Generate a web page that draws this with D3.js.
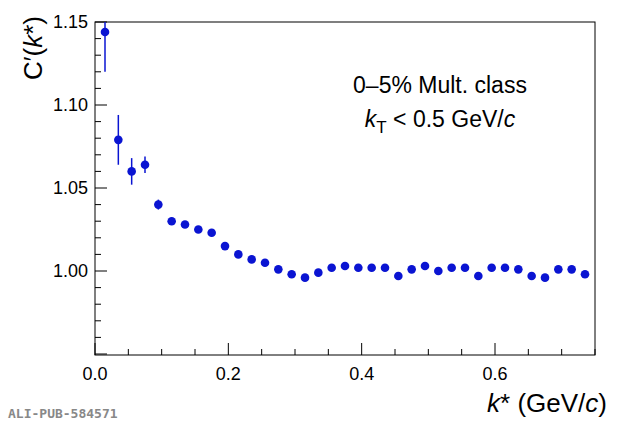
<!DOCTYPE html>
<html>
<head>
<meta charset="utf-8">
<script src="https://cdn.jsdelivr.net/npm/d3@7"></script>
<style>
  body { margin: 0; background: #fff; }
  text { font-family: "Liberation Sans", Arial, sans-serif; }
  text.wm { font-family: "DejaVu Sans Mono", monospace; font-weight: bold; }
</style>
</head>
<body>
<svg id="chart" width="620" height="429"></svg>
<script>
// k* bin centres (GeV/c) and C'(k*) values
var kstar = d3.range(37).map(function (i) { return +(0.015 + 0.02 * i).toFixed(4); });
var cval = [1.144, 1.079, 1.060, 1.064, 1.040, 1.030, 1.028, 1.025, 1.023, 1.015,
            1.010, 1.007, 1.005, 1.001, 0.998, 0.996, 0.999, 1.002, 1.003, 1.002,
            1.002, 1.002, 0.997, 1.001, 1.003, 1.000, 1.002, 1.002, 0.997, 1.002,
            1.002, 1.001, 0.997, 0.996, 1.001, 1.001, 0.998];
var cerr = [0.024, 0.015, 0.008, 0.005, 0.003, 0.002, 0.001, 0.001, 0.001, 0.001,
            0.001, 0.001, 0.001, 0.001, 0.001, 0.001, 0.001, 0.001, 0.001, 0.001,
            0.001, 0.001, 0.001, 0.001, 0.001, 0.001, 0.001, 0.001, 0.001, 0.001,
            0.001, 0.001, 0.001, 0.001, 0.001, 0.001, 0.001];
var xTicks = [0, 0.2, 0.4, 0.6];
var yTicks = [1.00, 1.05, 1.10, 1.15];

var svg = d3.select("#chart");
var L = 95, R = 595, T = 22, B = 355;
var x = d3.scaleLinear().domain([0, 0.75]).range([L, R]);
var y = d3.scaleLinear().domain([0.9494, 1.15]).range([B, T]);

// frame
svg.append("rect").attr("x", L).attr("y", T).attr("width", R - L).attr("height", B - T)
  .attr("fill", "none").attr("stroke", "#000").attr("stroke-width", 1);

// x ticks (inward)
d3.range(0, 0.751, 0.05).forEach(function (v) {
  var major = Math.abs(v / 0.2 - Math.round(v / 0.2)) < 1e-6;
  svg.append("line").attr("x1", x(v)).attr("x2", x(v))
    .attr("y1", B).attr("y2", B - (major ? 12 : 6)).attr("stroke", "#000");
});
xTicks.forEach(function (v) {
  svg.append("text").attr("x", x(v)).attr("y", B + 25).attr("text-anchor", "middle")
    .attr("font-size", 18).text(d3.format(".1f")(v));
});
// y ticks (inward)
d3.range(0.95, 1.1501, 0.01).forEach(function (v) {
  var major = Math.abs(v / 0.05 - Math.round(v / 0.05)) < 1e-6;
  if (v < 0.9494) return;
  svg.append("line").attr("x1", L).attr("x2", L + (major ? 12 : 6))
    .attr("y1", y(v)).attr("y2", y(v)).attr("stroke", "#000");
});
yTicks.forEach(function (v) {
  svg.append("text").attr("x", L - 7).attr("y", y(v) + 6).attr("text-anchor", "end")
    .attr("font-size", 18).text(d3.format(".2f")(v));
});

// axis titles
var xt = svg.append("text").attr("x", R + 12).attr("y", 412).attr("text-anchor", "end").attr("font-size", 26);
xt.append("tspan").attr("font-style", "italic").text("k");
xt.append("tspan").text("* (GeV/");
xt.append("tspan").attr("font-style", "italic").text("c");
xt.append("tspan").text(")");

var yt = svg.append("text").attr("transform", "translate(42," + (T - 6) + ") rotate(-90)")
  .attr("text-anchor", "end").attr("font-size", 26);
yt.append("tspan").text("C\u2032(");
yt.append("tspan").attr("font-style", "italic").text("k");
yt.append("tspan").text("*)");

// labels
svg.append("text").attr("x", 440).attr("y", 93).attr("text-anchor", "middle")
  .attr("font-size", 23).text("0\u20135% Mult. class");
var kt = svg.append("text").attr("x", 440).attr("y", 127).attr("text-anchor", "middle").attr("font-size", 23);
kt.append("tspan").attr("font-style", "italic").text("k");
kt.append("tspan").attr("font-size", 17).attr("dy", 6).text("T");
kt.append("tspan").attr("dy", -6).text(" < 0.5 GeV/");
kt.append("tspan").attr("font-style", "italic").text("c");

// data
var pts = kstar.map(function (k, i) { return { k: k, c: cval[i], e: cerr[i] }; });
svg.selectAll(".err").data(pts).enter().append("line")
  .attr("x1", function (d) { return x(d.k); }).attr("x2", function (d) { return x(d.k); })
  .attr("y1", function (d) { return y(Math.min(d.c + d.e, 1.15)); })
  .attr("y2", function (d) { return y(d.c - d.e); })
  .attr("stroke", "#0a14d2").attr("stroke-width", 1.5);
svg.selectAll(".pt").data(pts).enter().append("circle")
  .attr("cx", function (d) { return x(d.k); }).attr("cy", function (d) { return y(d.c); })
  .attr("r", 4.3).attr("fill", "#0a14d2");

// watermark
svg.append("text").attr("class", "wm").attr("x", 8).attr("y", 418)
  .attr("font-size", 13).attr("fill", "#888").text("ALI-PUB-584571");
</script>
</body>
</html>
